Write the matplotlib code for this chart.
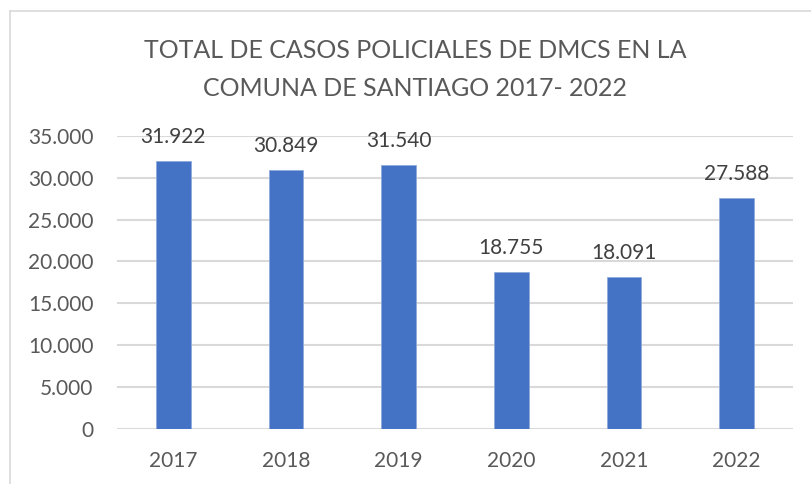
import matplotlib
matplotlib.use("Agg")
import matplotlib.pyplot as plt
from matplotlib.ticker import FuncFormatter
from matplotlib.lines import Line2D

years = ["2017", "2018", "2019", "2020", "2021", "2022"]
cases = [31922, 30849, 31540, 18755, 18091, 27588]
yticks = [0, 5000, 10000, 15000, 20000, 25000, 30000, 35000]
title_lines = ["TOTAL DE CASOS POLICIALES DE DMCS EN LA", "COMUNA DE SANTIAGO 2017- 2022"]

def fmt(v):
    return f"{int(v):,}".replace(",", ".")

plt.rcParams['font.family'] = ['Lato', 'DejaVu Sans']
TXT = "#595959"
GRID = "#D9D9D9"
BAR = "#4472C4"

fig = plt.figure(figsize=(8.11, 4.84), dpi=100)
ax = fig.add_axes([117/811, 1 - 429/484, (793-117)/811, (429-135.7)/484])

x = list(range(len(years)))
ax.bar(x, cases, width=0.31, color=BAR, edgecolor="#8FAADC", linewidth=0.6, zorder=3)
for xi, v in zip(x, cases):
    ax.annotate(fmt(v), (xi, v), xytext=(0, 13), textcoords="offset points",
                ha="center", va="baseline", fontsize=15, color="#404040", zorder=4)

ax.set_xlim(-0.5, len(years) - 0.5)
ax.set_ylim(0, 35000)
ax.set_yticks(yticks)
ax.yaxis.set_major_formatter(FuncFormatter(lambda v, p: fmt(v)))
ax.set_xticks(x)
ax.set_xticklabels(years)
ax.tick_params(axis="both", length=0, labelsize=15, labelcolor=TXT)
ax.tick_params(axis="y", pad=17)
ax.tick_params(axis="x", pad=16)
ax.grid(axis="y", color=GRID, linewidth=1.5, zorder=0)
ax.set_axisbelow(True)
for s in ax.spines.values():
    s.set_visible(False)

fig.text(415/811, 1 - 50/484, title_lines[0], ha="center", va="center", fontsize=18,
         color=TXT)
fig.text(415/811, 1 - 88/484, title_lines[1], ha="center", va="center", fontsize=18,
         color=TXT)

# chart border (left and top visible)
fig.add_artist(Line2D([10/811, 10/811], [0, 1 - 11/484], transform=fig.transFigure, color=GRID, linewidth=1.2))
fig.add_artist(Line2D([10/811, 1], [1 - 11/484, 1 - 11/484], transform=fig.transFigure, color=GRID, linewidth=1.2))

fig.savefig("out.png", dpi=100)
